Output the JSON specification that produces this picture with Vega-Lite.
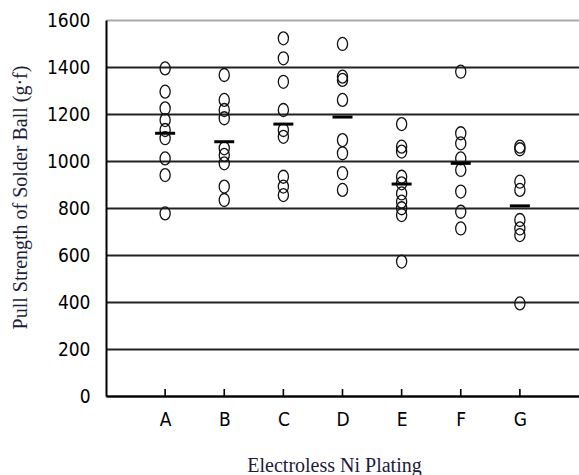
{
  "$schema": "https://vega.github.io/schema/vega-lite/v6.json",
  "width": 473,
  "height": 376,
  "autosize": {"type": "none"},
  "padding": {"left": 106, "top": 20, "right": 0, "bottom": 79},
  "background": "white",
  "config": {"view": {"stroke": null}},
  "datasets": {
    "points": [
      {"plating": "A", "strength": 1394}, {"plating": "A", "strength": 1295}, {"plating": "A", "strength": 1224},
      {"plating": "A", "strength": 1174}, {"plating": "A", "strength": 1132}, {"plating": "A", "strength": 1097},
      {"plating": "A", "strength": 1011}, {"plating": "A", "strength": 940}, {"plating": "A", "strength": 777},
      {"plating": "B", "strength": 1366}, {"plating": "B", "strength": 1260}, {"plating": "B", "strength": 1217},
      {"plating": "B", "strength": 1182}, {"plating": "B", "strength": 1054}, {"plating": "B", "strength": 1026},
      {"plating": "B", "strength": 990}, {"plating": "B", "strength": 891}, {"plating": "B", "strength": 834},
      {"plating": "C", "strength": 1522}, {"plating": "C", "strength": 1437}, {"plating": "C", "strength": 1337},
      {"plating": "C", "strength": 1217}, {"plating": "C", "strength": 1132}, {"plating": "C", "strength": 1103},
      {"plating": "C", "strength": 933}, {"plating": "C", "strength": 891}, {"plating": "C", "strength": 855},
      {"plating": "D", "strength": 1498}, {"plating": "D", "strength": 1359}, {"plating": "D", "strength": 1345},
      {"plating": "D", "strength": 1260}, {"plating": "D", "strength": 1089}, {"plating": "D", "strength": 1033},
      {"plating": "D", "strength": 948}, {"plating": "D", "strength": 877},
      {"plating": "E", "strength": 1157}, {"plating": "E", "strength": 1061}, {"plating": "E", "strength": 1040},
      {"plating": "E", "strength": 933}, {"plating": "E", "strength": 905}, {"plating": "E", "strength": 862},
      {"plating": "E", "strength": 827}, {"plating": "E", "strength": 799}, {"plating": "E", "strength": 770},
      {"plating": "E", "strength": 572},
      {"plating": "F", "strength": 1380}, {"plating": "F", "strength": 1118}, {"plating": "F", "strength": 1075},
      {"plating": "F", "strength": 1011}, {"plating": "F", "strength": 962}, {"plating": "F", "strength": 870},
      {"plating": "F", "strength": 784}, {"plating": "F", "strength": 713},
      {"plating": "G", "strength": 1061}, {"plating": "G", "strength": 1050}, {"plating": "G", "strength": 912},
      {"plating": "G", "strength": 877}, {"plating": "G", "strength": 749}, {"plating": "G", "strength": 713},
      {"plating": "G", "strength": 685}, {"plating": "G", "strength": 394}
    ],
    "means": [
      {"plating": "A", "mean": 1118}, {"plating": "B", "mean": 1082}, {"plating": "C", "mean": 1157},
      {"plating": "D", "mean": 1187}, {"plating": "E", "mean": 902}, {"plating": "F", "mean": 990},
      {"plating": "G", "mean": 809}
    ]
  },
  "layer": [
    {
      "data": {"name": "points"},
      "mark": {
        "type": "point",
        "shape": "M-0.78,0A0.78,1,0,1,1,0.78,0A0.78,1,0,1,1,-0.78,0Z",
        "size": 169, "filled": false, "stroke": "#111", "strokeWidth": 1.3, "opacity": 1
      },
      "encoding": {
        "x": {
          "field": "plating", "type": "ordinal",
          "scale": {"type": "point", "padding": 1, "domain": ["A", "B", "C", "D", "E", "F", "G"]},
          "axis": {
            "title": "Electroless Ni Plating",
            "titleFont": "Liberation Serif", "titleFontSize": 20, "titleFontWeight": "normal",
            "titleColor": "#1c1c3c", "titleX": 228, "titleY": 69, "titleBaseline": "middle", "titleAnchor": null,
            "labelAngle": 0, "labelFont": "DejaVu Sans Condensed, DejaVu Sans", "labelFontSize": 19, "labelColor": "black",
            "labelPadding": 14, "labelBaseline": "top",
            "ticks": false,
            "domainColor": "black", "domainWidth": 2, "grid": false
          }
        },
        "y": {
          "field": "strength", "type": "quantitative",
          "scale": {"domain": [0, 1600], "nice": false},
          "axis": {
            "title": "Pull Strength of Solder Ball (g·f)",
            "titleFont": "Liberation Serif", "titleFontSize": 20, "titleFontWeight": "normal",
            "titleColor": "#1c1c3c", "titleAngle": -90, "titleX": -86, "titleY": 177,
            "titleAlign": "center", "titleBaseline": "middle", "titleAnchor": null,
            "values": [0, 200, 400, 600, 800, 1000, 1200, 1400, 1600],
            "format": "d",
            "labelFont": "DejaVu Sans Condensed, DejaVu Sans", "labelFontSize": 19, "labelColor": "black",
            "labelPadding": 16, "ticks": false,
            "domainColor": "black", "domainWidth": 2,
            "grid": true,
            "gridColor": {"condition": {"test": "datum.value == 1600", "value": "#aaaaaa"}, "value": "#222222"},
            "gridWidth": 2
          }
        }
      }
    },
    {
      "data": {"name": "means"},
      "mark": {"type": "tick", "orient": "horizontal", "size": 20, "thickness": 3, "color": "black", "opacity": 1},
      "encoding": {
        "x": {"field": "plating", "type": "ordinal"},
        "y": {"field": "mean", "type": "quantitative"}
      }
    },
    {
      "data": {"name": "means"},
      "mark": {"type": "tick", "orient": "vertical", "size": 7, "thickness": 1.6, "color": "black", "opacity": 1},
      "encoding": {
        "x": {"field": "plating", "type": "ordinal"},
        "y": {"datum": 15, "type": "quantitative"}
      }
    }
  ]
}
